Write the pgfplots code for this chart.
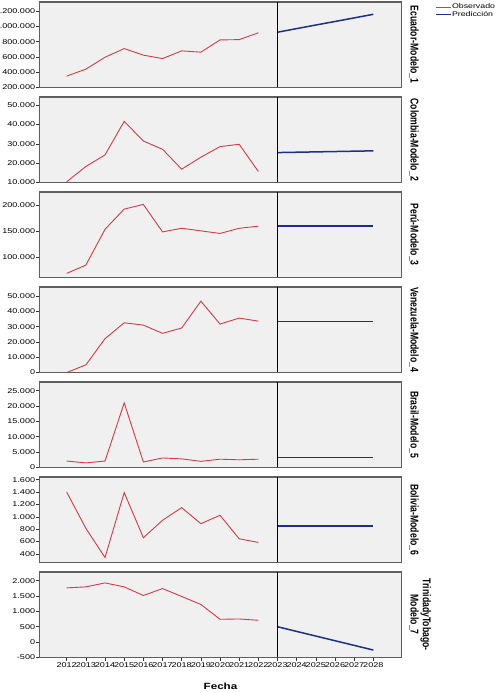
\documentclass[border=0pt]{standalone}
\usepackage{fontspec}
\setmainfont{Liberation Sans}
\newfontfamily\cf[FakeStretch=1.3]{Liberation Sans}
\usepackage{graphicx}
\usepackage{pgfplots}
\pgfplotsset{compat=1.18}

\definecolor{obs}{RGB}{214,58,68}
\definecolor{pred}{RGB}{28,48,138}
\definecolor{bgc}{RGB}{240,240,240}
\definecolor{framec}{RGB}{95,95,95}

\pgfplotsset{
  panel/.style={
    scale only axis, width=362.4bp, height=85.5bp,
    xmin=2010.57, xmax=2029.48,
    anchor=north west,
    clip mode=individual,
    axis background/.style={fill=bgc},
    axis line style={draw=framec, line width=1.3bp},
    xtick=\empty,
    ytick pos=left,
    tick align=outside,
    major tick length=3.5bp,
    tick style={draw=black!80, line width=0.6bp},
    scaled y ticks=false,
    yticklabel style={font=\cf\fontsize{7}{8}\selectfont, inner sep=0.5bp,
      /pgf/number format/fixed, /pgf/number format/precision=0,
      /pgf/number format/1000 sep={.}, /pgf/number format/assume math mode=true},
  },
  obsline/.style={obs, line width=0.9bp, mark=none},
  predline/.style={pred, line width=1.5bp, mark=none},
}

% forecast start and panel name on the right
\newcommand\sepline{\draw[black, line width=1.3bp] ({axis cs:2023,0}|-{rel axis cs:0,0}) -- ({axis cs:2023,0}|-{rel axis cs:0,1});}
\newcommand\rlab[1]{\node[rotate=-90, anchor=south, inner sep=0pt] at ([xshift=5bp]rel axis cs:1,0.5)
  {\scalebox{1}[1.3]{\fontsize{8.7}{9.5}\selectfont\bfseries\begin{tabular}{@{}c@{}}#1\end{tabular}}};}

\begin{document}
\begin{tikzpicture}
\path[use as bounding box] (0bp,0bp) rectangle (503bp,693bp);

% Ecuador
\begin{axis}[panel, at={(39.3bp,691bp)},
  ymin=200000, ymax=1318000, ytick={200000,400000,...,1200000},
  legend style={draw=none, fill=none, at={(1,1)}, anchor=north west, xshift=33bp, yshift=-1bp,
    font=\cf\fontsize{6.8}{7}\selectfont, inner sep=0pt, row sep=0pt,
    nodes={inner sep=0.6bp, text height=5bp, text depth=1.5bp}},
  legend cell align=left,
  legend image code/.code={\draw[#1] (0bp,0bp) -- (15bp,0bp);},
]
\addplot[obsline] coordinates {(2012,349000) (2013,440000) (2014,596000) (2015,709000) (2016,623000) (2017,578000) (2018,679000) (2019,662000) (2020,822000) (2021,826000) (2022,915000)};
\addlegendentry{Observado}
\addplot[predline] coordinates {(2023,923000) (2024,970000) (2025,1017000) (2026,1063000) (2027,1110000) (2028,1157000)};
\addlegendentry{Predicción}
\sepline
\rlab{Ecuador-Modelo\_1}
\end{axis}

% Colombia
\begin{axis}[panel, at={(39.3bp,596bp)},
  ymin=10000, ymax=54300, ytick={10000,20000,...,50000}]
\addplot[obsline] coordinates {(2012,10400) (2013,18300) (2014,24300) (2015,41700) (2016,31500) (2017,27200) (2018,16900) (2019,23100) (2020,28600) (2021,29800) (2022,15700)};
\addplot[predline] coordinates {(2023,25500) (2024,25680) (2025,25860) (2026,26040) (2027,26220) (2028,26400)};
\sepline
\rlab{Colombia-Modelo\_2}
\end{axis}

% Peru
\begin{axis}[panel, at={(39.3bp,501bp)},
  ymin=61000, ymax=226000, ytick={100000,150000,200000}]
\addplot[obsline] coordinates {(2012,69000) (2013,84900) (2014,154000) (2015,193000) (2016,202000) (2017,149000) (2018,156000) (2019,151000) (2020,146000) (2021,156000) (2022,160000)};
\addplot[predline] coordinates {(2023,160000) (2024,160000) (2025,160000) (2026,160000) (2027,160000) (2028,160000)};
\sepline
\rlab{Perú-Modelo\_3}
\end{axis}

% Venezuela
\begin{axis}[panel, at={(39.3bp,406bp)},
  ymin=0, ymax=56100, ytick={0,10000,...,50000}]
\addplot[obsline] coordinates {(2012,0) (2013,5000) (2014,22200) (2015,32600) (2016,31100) (2017,25700) (2018,29200) (2019,46800) (2020,31800) (2021,35700) (2022,33700)};
\addplot[predline] coordinates {(2023,33500) (2024,33500) (2025,33500) (2026,33500) (2027,33500) (2028,33500)};
\sepline
\rlab{Venezuela-Modelo\_4}
\end{axis}

% Brasil
\begin{axis}[panel, at={(39.3bp,311bp)},
  ymin=0, ymax=27800, ytick={0,5000,...,25000}]
\addplot[obsline] coordinates {(2012,2100) (2013,1500) (2014,2100) (2015,21000) (2016,1800) (2017,3100) (2018,2800) (2019,2000) (2020,2700) (2021,2500) (2022,2700)};
\addplot[predline] coordinates {(2023,3200) (2024,3200) (2025,3200) (2026,3200) (2027,3200) (2028,3200)};
\sepline
\rlab{Brasil-Modelo\_5}
\end{axis}

% Bolivia
\begin{axis}[panel, at={(39.3bp,216bp)},
  ymin=260, ymax=1645, ytick={400,600,...,1600}]
\addplot[obsline] coordinates {(2012,1400) (2013,813) (2014,341) (2015,1393) (2016,661) (2017,944) (2018,1149) (2019,889) (2020,1025) (2021,644) (2022,585)};
\addplot[predline] coordinates {(2023,851) (2024,851) (2025,851) (2026,851) (2027,851) (2028,851)};
\sepline
\rlab{Bolivia-Modelo\_6}
\end{axis}

% Trinidad y Tobago
\begin{axis}[panel, at={(39.3bp,121bp)},
  ymin=-500, ymax=2280, ytick={-500,0,...,2000},
  xtick={2012,...,2028}, xtick pos=bottom,
  xticklabel style={font=\cf\fontsize{7}{8}\selectfont, inner sep=1bp,
    /pgf/number format/1000 sep={}, /pgf/number format/assume math mode=true}]
\addplot[obsline] coordinates {(2012,1764) (2013,1796) (2014,1925) (2015,1796) (2016,1516) (2017,1742) (2018,1484) (2019,1226) (2020,742) (2021,753) (2022,710)};
\addplot[predline] coordinates {(2023,500) (2024,348) (2025,197) (2026,45) (2027,-106) (2028,-258)};
\sepline
\rlab{TrinidadyTobago-\\Modelo\_7}
\node[font=\cf\bfseries\fontsize{9}{10}\selectfont] at ([yshift=-28.3bp]rel axis cs:0.5,0) {Fecha};
\end{axis}
\end{tikzpicture}
\end{document}
